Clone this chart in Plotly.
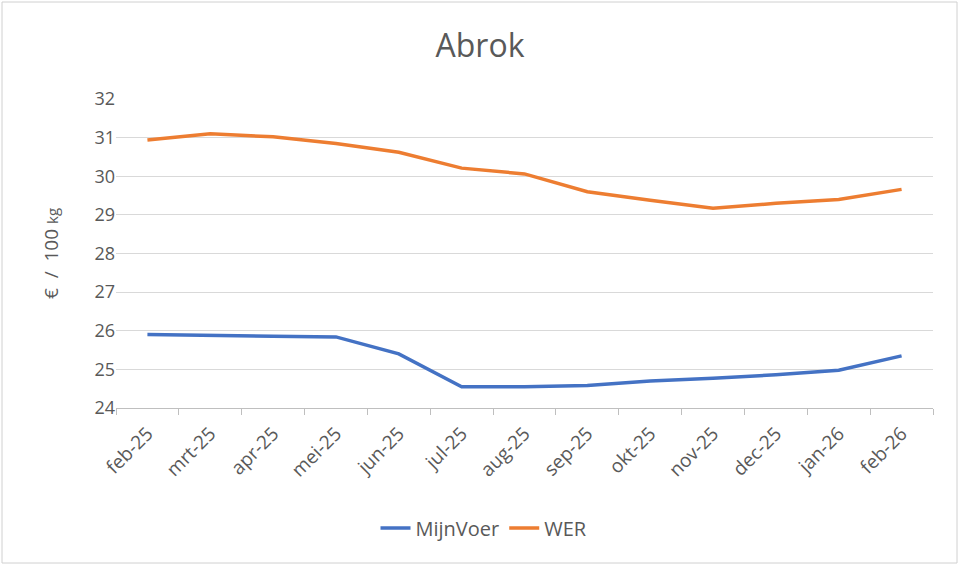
import plotly.graph_objects as go

months = ["feb-25", "mrt-25", "apr-25", "mei-25", "jun-25", "jul-25", "aug-25",
          "sep-25", "okt-25", "nov-25", "dec-25", "jan-26", "feb-26"]
mijnvoer = [25.90, 25.87, 25.86, 25.84, 25.40, 24.55, 24.55, 24.58, 24.70, 24.77, 24.86, 24.98, 25.35]
wer = [30.94, 31.10, 31.02, 30.85, 30.62, 30.21, 30.06, 29.60, 29.38, 29.17, 29.30, 29.40, 29.66]

y_ticks = [24, 25, 26, 27, 28, 29, 30, 31, 32]

W, H = 960, 567
L, R, T, B = 116, 27, 99, 159
pw, ph = W - L - R, H - T - B

font_family = "'Open Sans', 'Noto Sans', sans-serif"
gray = "#595959"

fig = go.Figure()
fig.add_trace(go.Scatter(x=months, y=mijnvoer, name="MijnVoer", mode="lines",
                         line=dict(color="#4472C4", width=3.5)))
fig.add_trace(go.Scatter(x=months, y=wer, name="WER", mode="lines",
                         line=dict(color="#ED7D31", width=3.5)))

fig.update_layout(
    width=W, height=H,
    margin=dict(l=L, r=R, t=T, b=B),
    paper_bgcolor="white", plot_bgcolor="white",
    font=dict(family=font_family, color=gray, size=16),
    title=dict(text="Abrok", x=0.5, xanchor="center", y=1 - 46 / H, yanchor="middle",
               font=dict(size=32, color=gray, family=font_family)),
    showlegend=True,
    legend=dict(orientation="h", x=(484 - L) / pw, xanchor="center", y=-(528 - (T + ph)) / ph,
                yanchor="middle", font=dict(size=20, color=gray), traceorder="normal"),
    xaxis=dict(type="category", range=[-0.5, len(months) - 0.5], tickson="boundaries",
               ticks="outside", ticklen=6, tickcolor="#bfbfbf", showline=True,
               linecolor="#bfbfbf", linewidth=1, showgrid=False, tickangle=-45,
               ticklabelstandoff=6,
               tickfont=dict(size=19, color=gray)),
    yaxis=dict(range=[24, 32], tickvals=y_ticks, showgrid=True, gridcolor="#d9d9d9",
               gridwidth=1, zeroline=False, showline=False, ticks="",
               tickfont=dict(size=18, color=gray),
               title=dict(text="€  /  100 <span style='font-size:15px'>kg</span>",
                          font=dict(size=19, color=gray), standoff=30)),
    shapes=[dict(type="rect", xref="paper", yref="paper",
                 x0=-(L - 2) / pw, x1=1 + (R - 3) / pw,
                 y0=-(B - 4) / ph, y1=1 + (T - 2) / ph,
                 line=dict(color="#d0d0d0", width=1), fillcolor="rgba(0,0,0,0)", layer="below")],
)

fig.write_html("out.html", config={"displayModeBar": False},
               post_script="document.body.style.margin='0';")
